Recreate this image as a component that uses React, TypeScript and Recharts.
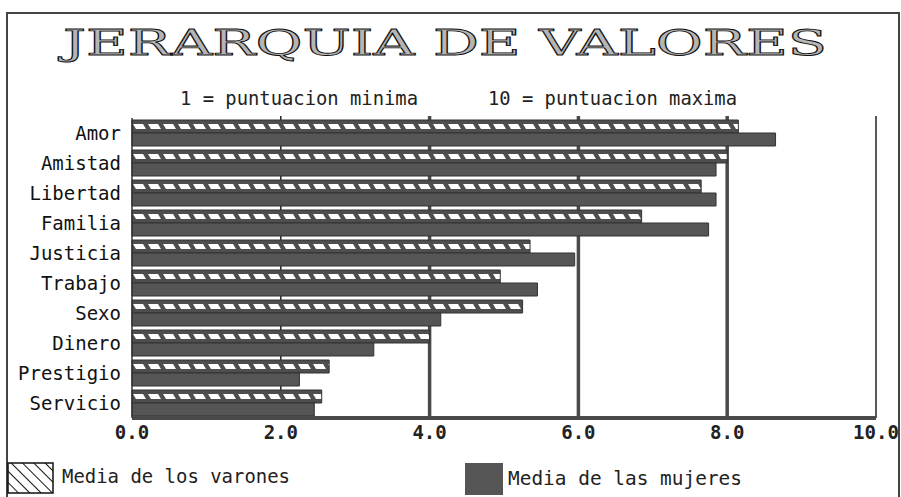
import React from 'react';
import { BarChart, Bar, XAxis, YAxis, CartesianGrid } from 'recharts';

const categories = ['Amor', 'Amistad', 'Libertad', 'Familia', 'Justicia', 'Trabajo', 'Sexo', 'Dinero', 'Prestigio', 'Servicio'];
const menValues = [8.15, 8.0, 7.65, 6.85, 5.35, 4.95, 5.25, 4.0, 2.65, 2.55];
const womenValues = [8.65, 7.85, 7.85, 7.75, 5.95, 5.45, 4.15, 3.25, 2.25, 2.45];
const xTicks = [0, 2, 4, 6, 8, 10];

const W = 901;
const H = 497;
const PLOT_TOP = 118;
const PLOT_BOTTOM = 418;
const PLOT_LEFT = 132;
const PLOT_RIGHT = 876;
const X_AXIS_HEIGHT = 30;

const mono = '"DejaVu Sans Mono", "Liberation Mono", monospace';

const chartData = categories.map((name, i) => ({
  name,
  varones: menValues[i],
  mujeres: womenValues[i],
}));

const gridLine = (props: any) => {
  const { x1, y1, x2, y2 } = props;
  const v = Math.round((x1 - PLOT_LEFT) / ((PLOT_RIGHT - PLOT_LEFT) / 10));
  if (v <= 0) return <line key={props.key} x1={x1} y1={y1} x2={x2} y2={y2} stroke="none" />;
  const thick = v === 4 || v === 6 || v === 8;
  return (
    <line
      key={props.key}
      x1={x1}
      y1={y1 - 2}
      x2={x2}
      y2={y2}
      stroke={thick ? '#4a4a4a' : '#222'}
      strokeWidth={thick ? 3.5 : 1.5}
    />
  );
};

const App: React.FC = () => {
  return (
    <div style={{ position: 'absolute', left: 0, top: 0, width: W, height: H, background: '#fff', overflow: 'hidden' }}>
      <BarChart
        width={W}
        height={H}
        data={chartData}
        layout="vertical"
        margin={{ top: PLOT_TOP, bottom: H - PLOT_BOTTOM - X_AXIS_HEIGHT, left: 12, right: W - PLOT_RIGHT }}
        barCategoryGap={2}
        barGap={0}
        barSize={13}
      >
        <defs>
          <pattern id="menHatch" patternUnits="userSpaceOnUse" x={PLOT_LEFT} y={PLOT_TOP} width={15} height={30}>
            <rect x={0} y={0} width={15} height={30} fill="#4e4e4e" />
            <polygon points="1,6 11,6 14,11 4,11" fill="#fff" />
          </pattern>
        </defs>
        <CartesianGrid horizontal={false} vertical={gridLine} />
        <XAxis
          type="number"
          domain={[0, 10]}
          ticks={xTicks}
          height={X_AXIS_HEIGHT}
          tickFormatter={(v: number) => v.toFixed(1)}
          tickLine={false}
          axisLine={{ stroke: '#4a4a4a', strokeWidth: 4 }}
          tick={{ fontFamily: mono, fontSize: 19, fontWeight: 'bold', fill: '#222' }}
          interval={0}
        />
        <YAxis
          type="category"
          dataKey="name"
          width={120}
          tickLine={false}
          tickMargin={5}
          axisLine={{ stroke: '#333', strokeWidth: 1.5 }}
          tick={{ fontFamily: mono, fontSize: 19, fill: '#111' }}
          interval={0}
        />
        <Bar dataKey="varones" name="Media de los varones" fill="url(#menHatch)" stroke="#333" strokeWidth={1} isAnimationActive={false} />
        <Bar dataKey="mujeres" name="Media de las mujeres" fill="#555" stroke="#333" strokeWidth={1} isAnimationActive={false} />
      </BarChart>

      <svg width={W} height={H} style={{ position: 'absolute', left: 0, top: 0, pointerEvents: 'none' }}>
        <defs>
          <pattern id="legendHatch" patternUnits="userSpaceOnUse" width={8} height={8} patternTransform="rotate(-45)">
            <line x1={0} y1={0} x2={0} y2={8} stroke="#111" strokeWidth={2} />
          </pattern>
        </defs>
        <rect x={7} y={13} width={892} height={500} fill="none" stroke="#444" strokeWidth={2} />
        <text
          x={63}
          y={55}
          textLength={764}
          lengthAdjust="spacingAndGlyphs"
          fontFamily='"DejaVu Serif", "Liberation Serif", serif'
          fontSize={36}
          fill="#b5b5b5"
          stroke="#111"
          strokeWidth={0.9}
        >
          JERARQUIA DE VALORES
        </text>
        <text x={180} y={105} textLength={238} lengthAdjust="spacingAndGlyphs" fontFamily={mono} fontSize={19} fill="#222">
          1 = puntuacion minima
        </text>
        <text x={488} y={105} textLength={249} lengthAdjust="spacingAndGlyphs" fontFamily={mono} fontSize={19} fill="#222">
          10 = puntuacion maxima
        </text>

        <rect x={8} y={463} width={45} height={30} fill="url(#legendHatch)" stroke="#111" strokeWidth={1.5} />
        <text x={62} y={483} textLength={228} lengthAdjust="spacingAndGlyphs" fontFamily={mono} fontSize={19} fill="#222">
          Media de los varones
        </text>
        <rect x={465} y={463} width={38} height={32} fill="#555" />
        <text x={508} y={485} textLength={234} lengthAdjust="spacingAndGlyphs" fontFamily={mono} fontSize={19} fill="#222">
          Media de las mujeres
        </text>
      </svg>
    </div>
  );
};

export default App;
